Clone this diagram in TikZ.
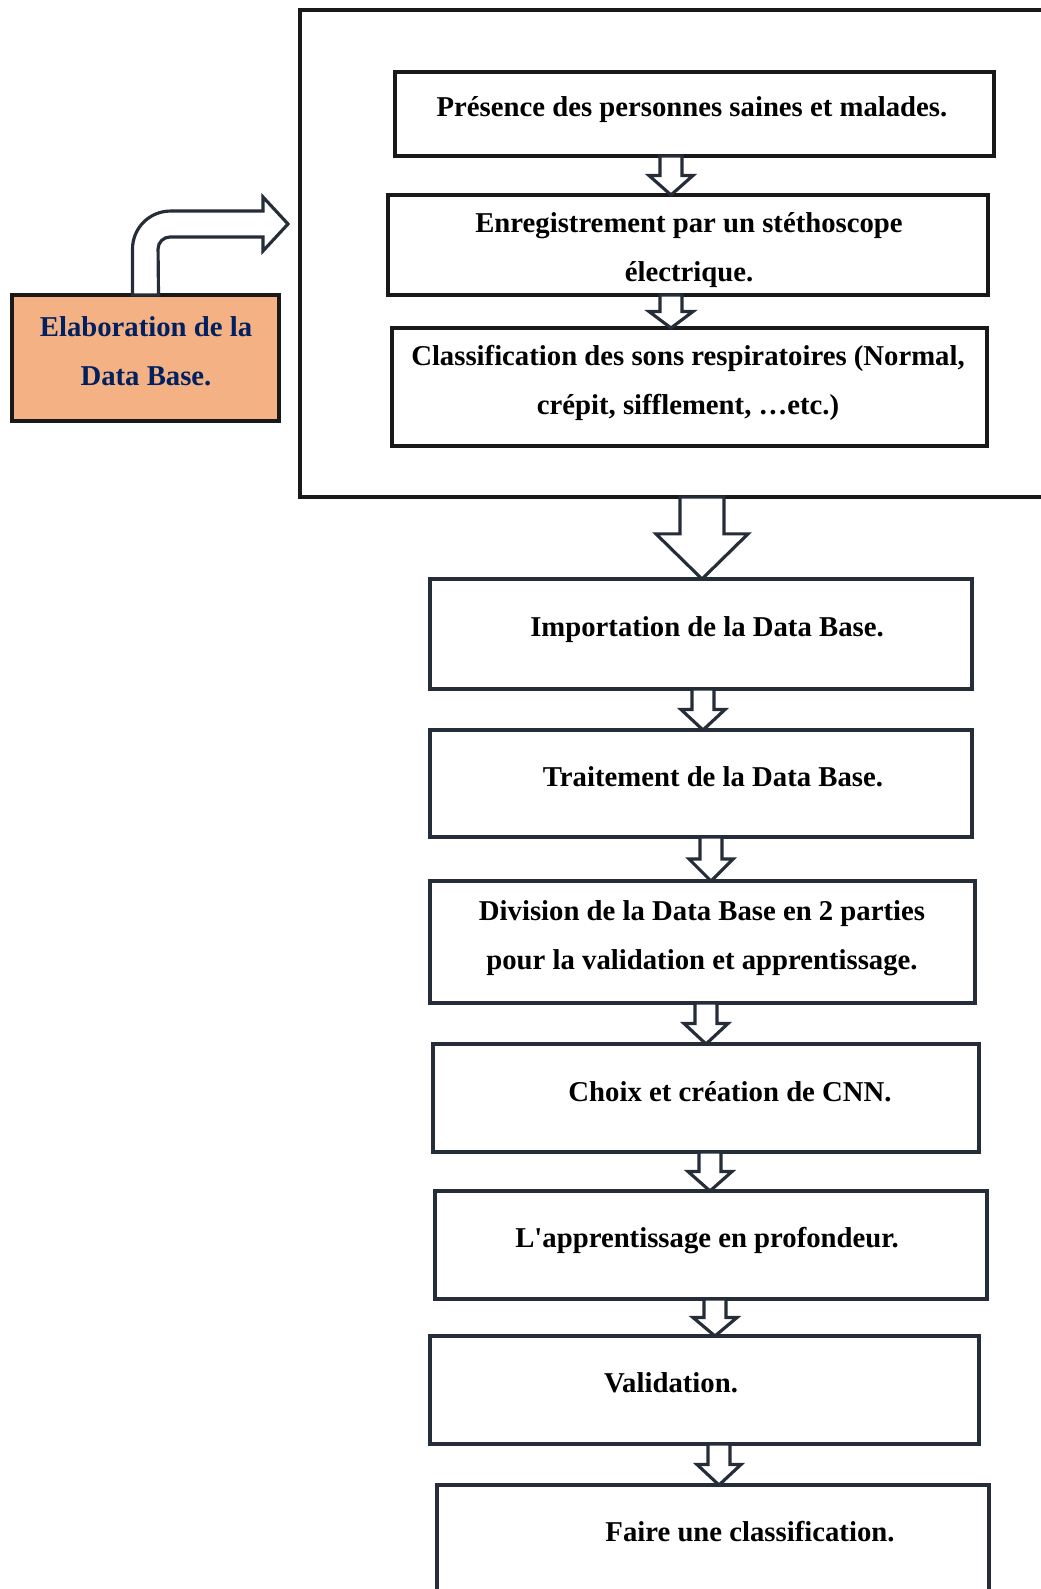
\documentclass[tikz,border=0pt]{standalone}
\usepackage{fontspec}
\setmainfont{Liberation Serif}
\usetikzlibrary{calc,fit}
\definecolor{boxline}{HTML}{252D39}
\definecolor{elabfill}{HTML}{F4B183}
\definecolor{elabtext}{HTML}{002060}
\newcommand{\downarr}[6]{%
  \draw[arr] let \p1=(#1,0), \p2=(#2.south), \p3=(#3.north), \p4=(#4,0), \p5=(#5,0),
    \p6=($(\x1,\y2)!#6!(\x1,\y3)$) in
    (\x1-\x4,\y2) -- (\x1-\x4,\y6) -- (\x1-\x5,\y6) -- (\x1,\y3)
    -- (\x1+\x5,\y6) -- (\x1+\x4,\y6) -- (\x1+\x4,\y2) -- cycle;}

\begin{document}
\begin{tikzpicture}[x=0.02cm,y=-0.02cm,
    box/.style={draw=boxline,line width=2pt,inner sep=0pt,outer sep=0pt},
    inbox/.style={draw=black!90,line width=1.8pt,inner sep=0pt,outer sep=0pt},
    frame/.style={draw=black!90,line width=2.4pt,inner sep=0pt,outer sep=0pt},
    elab/.style={draw=black!90,fill=elabfill,line width=2.8pt,inner sep=0pt,outer sep=0pt},
    lbl/.style={font=\fontsize{16.35}{27.9}\selectfont\bfseries,align=center,inner sep=0pt},
    arr/.style={draw=boxline,fill=white,line width=1.8pt,line join=miter}]
        \useasboundingbox (0,0) rectangle (1041,1589);
        \clip (0,0) rectangle (1041,1589);
        \node[frame, fit={(300,10) (1100,497)}] (frame) {};
        \node[inbox, fit={(395,72) (994,156)}] (b1) {};
        \node[inbox, fit={(388,195) (988,295)}] (b2) {};
        \node[inbox, fit={(392,328) (987,446)}] (b3) {};
        \node[box, fit={(430,579) (972,689)}] (b4) {};
        \node[box, fit={(430,730) (972,837)}] (b5) {};
        \node[box, fit={(430,881) (975,1003)}] (b6) {};
        \node[box, fit={(433,1044) (979,1152)}] (b7) {};
        \node[box, fit={(435,1191) (987,1299)}] (b8) {};
        \node[box, fit={(430,1336) (979,1444)}] (b9) {};
        \node[box, fit={(437,1485) (989,1640)}] (b10) {};
        \node[elab, fit={(12,295) (279,421)}] (elab) {};
        \node[lbl] (t1) at (692,110) {Présence des personnes saines et malades.};
        \node[lbl] (t2) at (689,250) {Enregistrement par un stéthoscope\\électrique.};
        \node[lbl] (t3) at (688,383) {Classification des sons respiratoires (Normal,\\crépit, sifflement, …etc.)};
        \node[lbl] (t4) at (707,630) {Importation de la Data Base.};
        \node[lbl] (t5) at (713,777) {Traitement de la Data Base.};
        \node[lbl] (t6) at (702,938) {Division de la Data Base en 2 parties\\pour la validation et apprentissage.};
        \node[lbl] (t7) at (730,1092) {Choix et création de CNN.};
        \node[lbl] (t8) at (707,1241) {L\textquotesingle apprentissage en profondeur.};
        \node[lbl] (t9) at (671,1383) {Validation.};
        \node[lbl] (t10) at (750,1532) {Faire une classification.};
        \node[lbl, text=elabtext] (t0) at (146,351) {Elaboration de la\\Data Base.};
        \coordinate (tip) at (288,224);
        \draw[arr] ($(elab.north)+(-13,0)$) -- ++(0,-46) arc[start angle=180,end angle=90,radius=21.6pt]
            -- (263,211) -- (263,197) -- (tip) -- (263,251) -- (263,237) -- (170,237)
            arc[start angle=90,end angle=180,radius=6.8pt] -- ($(elab.north)+(13,0)$) -- cycle;
        \downarr{671}{b1}{b2}{11}{22}{0.5}
        \downarr{671}{b2}{b3}{11}{22}{0.5}
        \downarr{702}{frame}{b4}{22}{46}{0.45}
        \downarr{703}{b4}{b5}{11}{22}{0.5}
        \downarr{711}{b5}{b6}{11}{22}{0.5}
        \downarr{706}{b6}{b7}{11}{22}{0.5}
        \downarr{710}{b7}{b8}{11}{22}{0.5}
        \downarr{715}{b8}{b9}{11}{22}{0.5}
        \downarr{719}{b9}{b10}{11}{22}{0.5}
\end{tikzpicture}
\end{document}
